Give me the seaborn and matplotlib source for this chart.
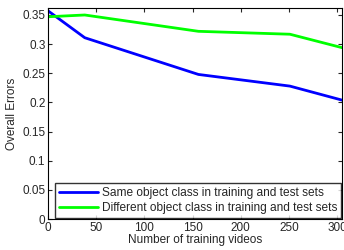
import numpy as np
import pandas as pd
import matplotlib
matplotlib.use("Agg")
import matplotlib.pyplot as plt
import seaborn as sns

videos = [0, 38, 156, 251, 305]
same_class = [0.357, 0.311, 0.248, 0.228, 0.204]
diff_class = [0.347, 0.350, 0.322, 0.317, 0.294]
labels = ["Same object class in training and test sets",
          "Different object class in training and test sets"]

df = pd.DataFrame({
    "videos": videos * 2,
    "error": same_class + diff_class,
    "setting": [labels[0]] * len(videos) + [labels[1]] * len(videos),
})

sns.set_style("ticks")
plt.rcParams["font.family"] = ["Liberation Sans", "DejaVu Sans"]

fig = plt.figure(figsize=(3.44, 2.5), dpi=100)
ax = fig.add_axes([0.14, 0.124, 0.854, 0.844])
sns.lineplot(data=df, x="videos", y="error", hue="setting",
             palette=["#0000ff", "#00ff00"], linewidth=2, ax=ax)

ax.set_xlim(0, 305)
ax.set_ylim(0, 0.362)
ax.set_xticks([0, 50, 100, 150, 200, 250, 300])
ax.set_yticks([0, 0.05, 0.1, 0.15, 0.2, 0.25, 0.3, 0.35])
ax.set_yticklabels(["0", "0.05", "0.1", "0.15", "0.2", "0.25", "0.3", "0.35"])
ax.tick_params(direction="in", top=True, right=True, labelsize=8.5, length=3, pad=2)
for s in ax.spines.values():
    s.set_linewidth(0.8)
    s.set_color("black")
ax.set_xlabel("Number of training videos", fontsize=8.5, labelpad=0)
ax.set_ylabel("Overall Errors", fontsize=8.5, labelpad=3)

leg = ax.legend(loc="lower right", fontsize=8.6, frameon=True, fancybox=False,
                edgecolor="black", borderpad=0.35, labelspacing=0.25,
                handlelength=3.3, handletextpad=0.3, borderaxespad=0.05)
leg.get_frame().set_linewidth(1)

fig.savefig("out.png", dpi=100)
